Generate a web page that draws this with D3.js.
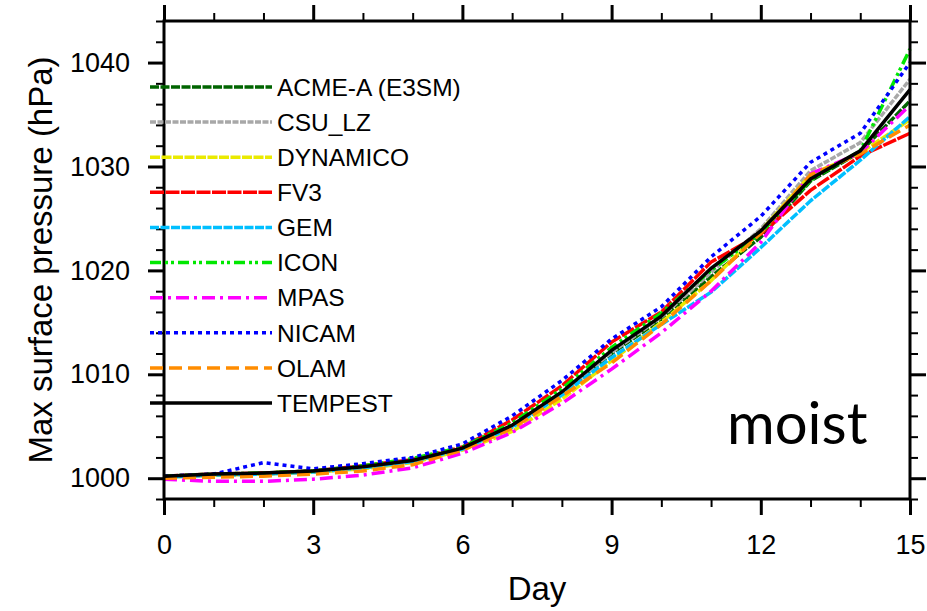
<!DOCTYPE html>
<html>
<head>
<meta charset="utf-8">
<script src="https://cdn.jsdelivr.net/npm/d3@7"></script>
<style>
  body { margin: 0; background: #fff; }
  svg { display: block; font-family: "Liberation Sans", Arial, sans-serif; }
</style>
</head>
<body>
<div id="chart-container"></div>
<script>
// ! data
const days = [0, 1, 2, 3, 4, 5, 6, 7, 8, 9, 10, 11, 12, 13, 14, 15];
const models = ["ACME-A (E3SM)", "CSU_LZ", "DYNAMICO", "FV3", "GEM", "ICON", "MPAS", "NICAM", "OLAM", "TEMPEST"];

const acme     = [1000.2, 1000.3, 1000.5, 1000.7, 1001.1, 1001.7, 1002.9, 1005.0, 1008.1, 1012.0, 1015.3, 1019.4, 1023.2, 1028.6, 1031.4, 1036.3];
const csu      = [1000.1, 1000.3, 1000.4, 1000.6, 1001.0, 1001.6, 1002.9, 1005.0, 1008.2, 1012.1, 1015.5, 1019.8, 1024.0, 1029.6, 1032.3, 1038.4];
const dynamico = [1000.1, 1000.3, 1000.4, 1000.6, 1000.9, 1001.5, 1002.7, 1004.5, 1007.6, 1011.3, 1015.0, 1019.0, 1023.8, 1029.2, 1031.3, 1034.5];
const fv3      = [1000.2, 1000.4, 1000.5, 1000.7, 1001.2, 1001.8, 1003.0, 1005.6, 1008.9, 1013.1, 1016.0, 1020.8, 1023.5, 1027.7, 1031.0, 1033.2];
const gem      = [1000.1, 1000.3, 1000.4, 1000.6, 1001.0, 1001.6, 1002.8, 1004.9, 1008.0, 1011.6, 1014.8, 1017.9, 1022.2, 1026.7, 1030.6, 1034.8];
const icon     = [1000.2, 1000.4, 1000.5, 1000.7, 1001.2, 1001.9, 1003.0, 1005.3, 1008.6, 1012.6, 1015.9, 1020.0, 1023.6, 1028.7, 1031.5, 1041.3];
const mpas     = [999.9, 999.7, 999.7, 999.9, 1000.3, 1001.0, 1002.4, 1004.4, 1007.2, 1010.5, 1014.0, 1018.0, 1022.7, 1029.3, 1031.3, 1035.9];
const nicam    = [1000.2, 1000.4, 1001.5, 1000.9, 1001.4, 1002.0, 1003.3, 1006.0, 1009.4, 1013.4, 1016.5, 1021.3, 1025.2, 1030.4, 1033.2, 1040.0];
const olam     = [1000.0, 1000.1, 1000.2, 1000.4, 1000.7, 1001.3, 1002.7, 1004.8, 1007.9, 1011.1, 1014.8, 1019.0, 1023.6, 1029.2, 1031.2, 1034.0];
const tempest  = [1000.2, 1000.4, 1000.5, 1000.7, 1001.1, 1001.7, 1002.9, 1005.1, 1008.3, 1012.3, 1015.6, 1020.2, 1023.8, 1028.8, 1031.5, 1037.4];

const seriesValues = [acme, csu, dynamico, fv3, gem, icon, mpas, nicam, olam, tempest];

// ticks
const xMajor = [0, 3, 6, 9, 12, 15];
const xMinor = [1, 2, 4, 5, 7, 8, 10, 11, 13, 14];
const yMajor = [1000, 1010, 1020, 1030, 1040];
const yMinor = [998, 1002, 1004, 1006, 1008, 1012, 1014, 1016, 1018, 1022, 1024, 1026, 1028, 1032, 1034, 1036, 1038, 1042, 1044];

// line styles
const colors = ["#006400", "#a8a8a8", "#eaea00", "#ff0000", "#00bfff", "#00e800", "#ff00ff", "#0000ff", "#ff8c00", "#000000"];
const dashes = ["9,1.5", "6,1.5", "10,1.5", "14,1.5", "9,1.5", "11,4,3,3,3,4", "13,5,3,5", "4,4", "13,6", null];

const margin = { top: 21, right: 17, bottom: 112, left: 164 };
const W = 927, H = 611;
const width = W - margin.left - margin.right;
const height = H - margin.top - margin.bottom;

const x = d3.scaleLinear().domain([0, 15]).range([0, width]);
const y = d3.scaleLinear().domain([998, 1044]).range([height, 0]);

const svg = d3
  .select("#chart-container")
  .append("svg")
  .attr("width", W)
  .attr("height", H);

const g = svg.append("g").attr("transform", `translate(${margin.left},${margin.top})`);

//! lines
const line = d3
  .line()
  .x((d, i) => x(days[i]))
  .y((d) => y(d));

seriesValues.forEach(function (vals, i) {
  g.append("path")
    .datum(vals)
    .attr("fill", "none")
    .attr("stroke", colors[i])
    .attr("stroke-width", 3.5)
    .attr("stroke-dasharray", dashes[i])
    .attr("d", line);
});

//! axes (outward ticks on all four sides)
function styleAxis(sel, w) {
  sel.select(".domain").remove();
  sel.selectAll(".tick line").attr("stroke", "#000").attr("stroke-width", w);
}
function styleLabels(sel) {
  sel.selectAll("text")
    .attr("font-size", 27)
    .attr("fill", "#000")
    .attr("font-family", "Liberation Sans, Arial, sans-serif");
}

g.append("g").attr("transform", `translate(0,${height})`)
  .call(d3.axisBottom(x).tickValues(xMinor).tickSize(8).tickFormat(""))
  .call(styleAxis, 2);
g.append("g").attr("transform", `translate(0,${height})`)
  .call(d3.axisBottom(x).tickValues(xMajor).tickSize(16).tickPadding(20).tickFormat(d3.format("d")))
  .call(styleAxis, 3)
  .call(styleLabels);

g.append("g")
  .call(d3.axisTop(x).tickValues(xMinor).tickSize(8).tickFormat(""))
  .call(styleAxis, 2);
g.append("g")
  .call(d3.axisTop(x).tickValues(xMajor).tickSize(16).tickFormat(""))
  .call(styleAxis, 3);

g.append("g")
  .call(d3.axisLeft(y).tickValues(yMinor).tickSize(8).tickFormat(""))
  .call(styleAxis, 2);
g.append("g")
  .call(d3.axisLeft(y).tickValues(yMajor).tickSize(16).tickPadding(18).tickFormat(d3.format("d")))
  .call(styleAxis, 3)
  .call(styleLabels);

g.append("g").attr("transform", `translate(${width},0)`)
  .call(d3.axisRight(y).tickValues(yMinor).tickSize(8).tickFormat(""))
  .call(styleAxis, 2);
g.append("g").attr("transform", `translate(${width},0)`)
  .call(d3.axisRight(y).tickValues(yMajor).tickSize(16).tickFormat(""))
  .call(styleAxis, 3);

// frame
g.append("rect")
  .attr("width", width)
  .attr("height", height)
  .attr("fill", "none")
  .attr("stroke", "#000")
  .attr("stroke-width", 3);

//! legend
const legendY = d3.scaleLinear().domain([0, 9]).range([87, 403]);
const legend = svg
  .selectAll(".legend")
  .data(models)
  .enter()
  .append("g")
  .attr("class", "legend")
  .attr("transform", (d, i) => `translate(150,${legendY(i)})`);

legend
  .append("line")
  .attr("x1", 0)
  .attr("x2", 122)
  .attr("stroke", (d, i) => colors[i])
  .attr("stroke-width", 3.5)
  .attr("stroke-dasharray", (d, i) => dashes[i]);

legend
  .append("text")
  .attr("x", 127)
  .attr("dy", "0.36em")
  .attr("font-size", 24.5)
  .text((d) => d);

//! titles
svg.append("text")
  .attr("x", margin.left + width / 2)
  .attr("y", 600)
  .attr("text-anchor", "middle")
  .attr("font-size", 33)
  .text("Day");

svg.append("text")
  .attr("transform", `translate(52,${margin.top + height / 2}) rotate(-90)`)
  .attr("text-anchor", "middle")
  .attr("font-size", 33)
  .text("Max surface pressure (hPa)");

svg.append("text")
  .attr("x", 727)
  .attr("y", 444)
  .attr("font-family", "Lato, sans-serif")
  .attr("font-size", 58)
  .text("moist");
</script>
</body>
</html>
